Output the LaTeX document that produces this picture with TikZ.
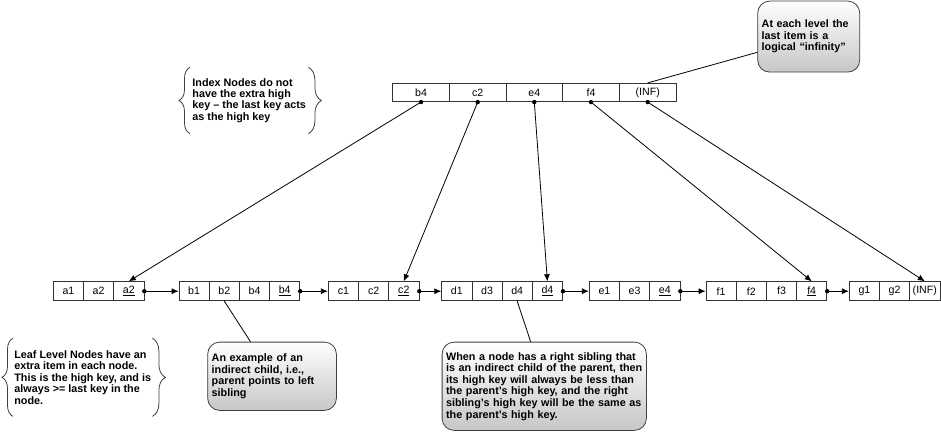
\documentclass[tikz,border=0pt]{standalone}
\usepackage{fontspec}
\setmainfont{Liberation Sans}
\usetikzlibrary{arrows.meta,decorations.pathreplacing}
\tikzset{cell/.style={draw=black!80,line width=.8pt,minimum width=30.2pt,minimum height=19pt,inner sep=0pt}}
\tikzset{key/.style={cell,minimum width=56.7pt,minimum height=18.4pt}}
\tikzset{note/.style={draw=black!75,line width=.8pt,rounded corners=12pt,top color=white,middle color=black!3,bottom color=black!22,align=left,inner xsep=4pt,inner ysep=0pt,font=\bfseries\fontsize{10.8}{11.6}\selectfont,anchor=north west}}
\tikzset{braced/.style={align=left,inner sep=0pt,font=\bfseries\fontsize{10.8}{11.4}\selectfont,anchor=north west}}
\tikzset{link/.style={line width=.8pt,-{Latex[length=7pt,width=6pt]}}}
\tikzset{lbrace/.style={draw=black!75,line width=.8pt,decorate,decoration={brace,amplitude=11pt}}}
\tikzset{rbrace/.style={draw=black!75,line width=.8pt,decorate,decoration={brace,amplitude=13pt}}}
\begin{document}
\begin{tikzpicture}
                [x=1pt,y=-1pt,font=\fontsize{10.6}{12}\selectfont]
                \useasboundingbox[fill=white] (0,0) rectangle (941,433);
                % index level
                \node [key] (i1) at (421,92.5) {b4};
                \node [key] (i2) at (477.7,92.5) {c2};
                \node [key] (i3) at (534.3,92.5) {e4};
                \node [key] (i4) at (591,92.5) {f4};
                \node [key] (i5) at (647.7,92.5) {(INF)};
                
                % leaf level
                \node [cell] (a1) at (68.4,291.2) {a1};
                \node [cell] (a2) at (98.6,291.2) {a2};
                \node [cell] (a3) at (128.8,291.2) {\underline{a2}};
                \node [cell] (b1) at (194.1,291.2) {b1};
                \node [cell] (b2) at (224.3,291.2) {b2};
                \node [cell] (b3) at (254.5,291.2) {b4};
                \node [cell] (b4) at (284.7,291.2) {\underline{b4}};
                \node [cell] (c1) at (343.4,291.2) {c1};
                \node [cell] (c2) at (373.6,291.2) {c2};
                \node [cell] (c3) at (403.8,291.2) {\underline{c2}};
                \node [cell] (d1) at (456.8,291.2) {d1};
                \node [cell] (d2) at (487,291.2) {d3};
                \node [cell] (d3) at (517.2,291.2) {d4};
                \node [cell] (d4) at (547.4,291.2) {\underline{d4}};
                \node [cell] (e1) at (604.4,291.2) {e1};
                \node [cell] (e2) at (634.6,291.2) {e3};
                \node [cell] (e3) at (664.8,291.2) {\underline{e4}};
                \node [cell] (f1) at (721.1,291.2) {f1};
                \node [cell] (f2) at (751.3,291.2) {f2};
                \node [cell] (f3) at (781.5,291.2) {f3};
                \node [cell] (f4) at (811.7,291.2) {\underline{f4}};
                \node [cell] (g1) at (864.4,291.2) {g1};
                \node [cell] (g2) at (894.6,291.2) {g2};
                \node [cell] (g3) at (924.8,291.2) {(INF)};
                
                % notes
                \node [note,text width=94pt,minimum height=71pt] (infnote) at (757.3,0.7) {At each level the\\last item is a\\logical “infinity”};
                \node [note,text width=120.7pt,minimum height=68.3pt] (bnote) at (207.3,341.7) {An example of an\\indirect child, i.e.,\\parent points to left\\sibling};
                \node [note,text width=196.3pt,minimum height=88.3pt] (dnote) at (441.7,341.7) {When a node has a right sibling that\\is an indirect child of the parent, then\\its high key will always be less than\\the parent’s high key, and the right\\sibling’s high key will be the same as\\the parent’s high key.};
                \node [braced,minimum width=118pt,minimum height=66pt] (idxtxt) at (190,67.3) {Index Nodes do not\\have the extra high\\key – the last key acts\\as the high key};
                \node [braced,minimum width=139pt,minimum height=77.7pt] (leaftxt) at (13,338.3) {Leaf Level Nodes have an\\extra item in each node.\\This is the high key, and is\\always >= last key in the\\node.};
                
                \draw [lbrace] (idxtxt.south west) -- (idxtxt.north west);
                \draw [rbrace] (idxtxt.north east) -- (idxtxt.south east);
                \draw [lbrace] (leaftxt.south west) -- (leaftxt.north west);
                \draw [rbrace] (leaftxt.north east) -- (leaftxt.south east);
                
                \draw [line width=.8pt] (i5.north) -- (infnote.197);
                \draw [line width=.8pt] (b2.south) -- (bnote.122);
                \draw [line width=.8pt] (d3.south) -- (dnote.107);
                
                \foreach \from/\to in {i1/a3,i2/c3,i3/d4,i4/f4,i5/g3}
                {\fill (\from.south) circle (2.2pt);
                \draw [link] (\from.south) -- (\to.north);}
                
                \foreach \from/\to in {a3/b1,b4/c1,c3/d1,d4/e1,e3/f1,f4/g1}
                {\fill (\from.east) circle (2.2pt);
                \draw [link] (\from.east) -- (\to.west);}
            \end{tikzpicture}
\end{document}
